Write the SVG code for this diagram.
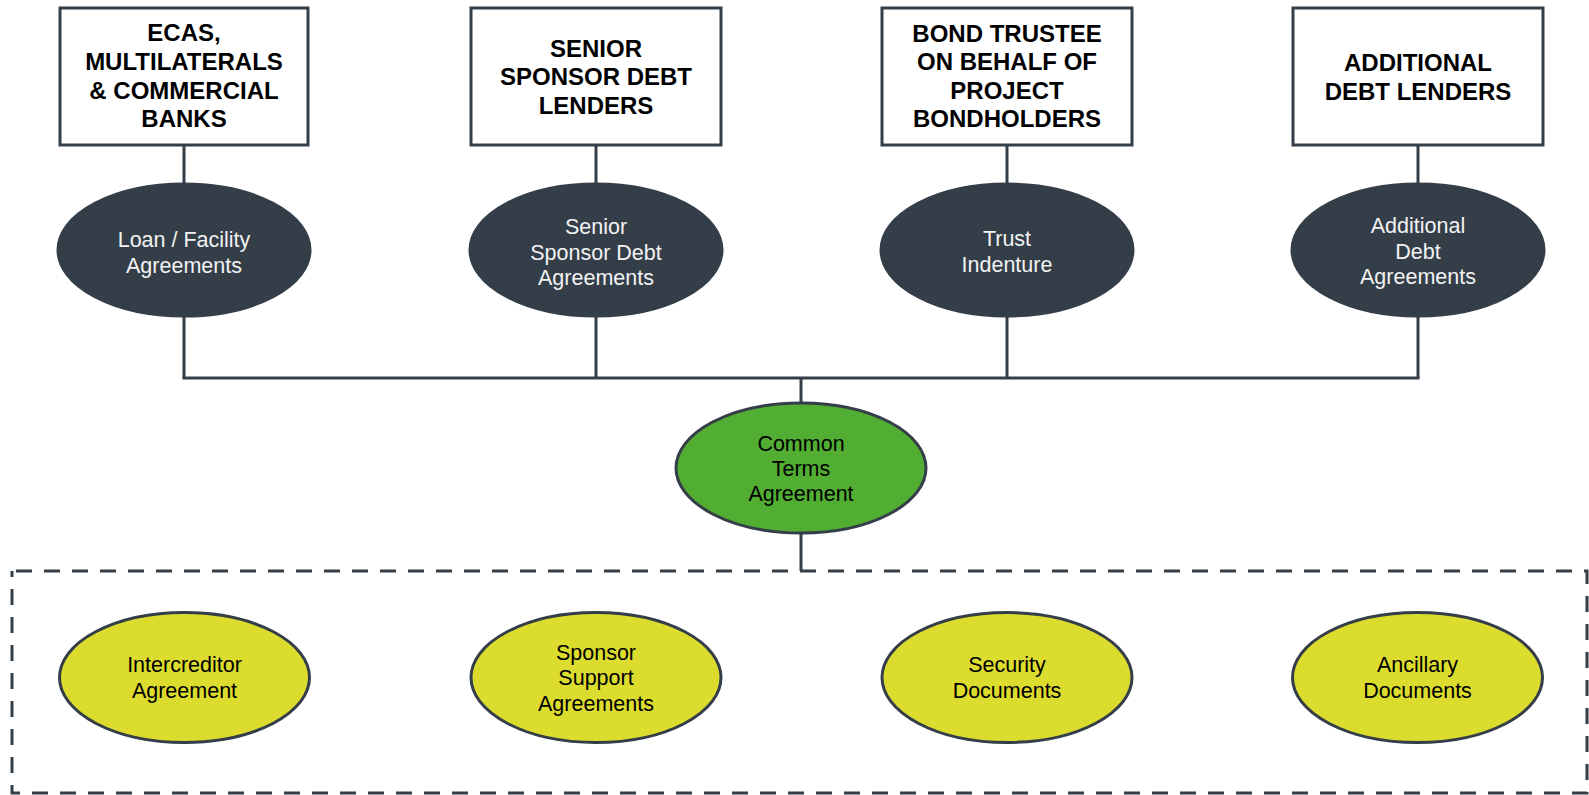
<svg xmlns="http://www.w3.org/2000/svg" width="1589" height="795" viewBox="0 0 1589 795">
<style>
.box{fill:#ffffff;stroke:#343e49;stroke-width:3}
.dark{fill:#343e49;stroke:#343e49;stroke-width:3}
.green{fill:#52ad33;stroke:#343e49;stroke-width:3}
.yellow{fill:#dcdc2e;stroke:#343e49;stroke-width:3}
.conn{fill:none;stroke:#343e49;stroke-width:3}
.dash{fill:none;stroke:#343e49;stroke-width:3;stroke-dasharray:16 12}
.t{font-family:"Liberation Sans",Arial,sans-serif;text-anchor:middle}
.bold{font-weight:bold;font-size:24px;fill:#000000}
.w{font-size:21.5px;fill:#f2f2f2}
.k{font-size:21.5px;fill:#000000}
</style>
<g id="connectors">
<line class="conn" x1="184" y1="145" x2="184" y2="183"/>
<line class="conn" x1="596" y1="145" x2="596" y2="183"/>
<line class="conn" x1="1007" y1="145" x2="1007" y2="183"/>
<line class="conn" x1="1418" y1="145" x2="1418" y2="183"/>
<line class="conn" x1="184" y1="317" x2="184" y2="378"/>
<line class="conn" x1="596" y1="317" x2="596" y2="378"/>
<line class="conn" x1="1007" y1="317" x2="1007" y2="378"/>
<line class="conn" x1="1418" y1="317" x2="1418" y2="378"/>
<line class="conn" x1="182.5" y1="378" x2="1419.5" y2="378"/>
<line class="conn" x1="801" y1="378" x2="801" y2="403"/>
<line class="conn" x1="801" y1="533" x2="801" y2="571"/>
</g>
<g id="scope">
<rect class="dash" x="12" y="571" width="1575" height="222" stroke-dashoffset="-4"/>
</g>
<g id="box1">
<rect class="box" x="60" y="8" width="248" height="137"/>
<text class="t bold"><tspan x="184" y="41">ECAS,</tspan><tspan x="184" y="69.5">MULTILATERALS</tspan><tspan x="184" y="98.5">&amp; COMMERCIAL</tspan><tspan x="184" y="127">BANKS</tspan></text>
</g>
<g id="box2">
<rect class="box" x="471" y="8" width="250" height="137"/>
<text class="t bold"><tspan x="596" y="56.5">SENIOR</tspan><tspan x="596" y="85">SPONSOR DEBT</tspan><tspan x="596" y="113.5">LENDERS</tspan></text>
</g>
<g id="box3">
<rect class="box" x="882" y="8" width="250" height="137"/>
<text class="t bold"><tspan x="1007" y="41.5">BOND TRUSTEE</tspan><tspan x="1007" y="70">ON BEHALF OF</tspan><tspan x="1007" y="98.5">PROJECT</tspan><tspan x="1007" y="127">BONDHOLDERS</tspan></text>
</g>
<g id="box4">
<rect class="box" x="1293" y="8" width="250" height="137"/>
<text class="t bold"><tspan x="1418" y="71">ADDITIONAL</tspan><tspan x="1418" y="99.5">DEBT LENDERS</tspan></text>
</g>
<g id="loan">
<ellipse class="dark" cx="184" cy="250" rx="126" ry="66"/>
<text class="t w"><tspan x="184" y="246.5">Loan / Facility</tspan><tspan x="184" y="272.5">Agreements</tspan></text>
</g>
<g id="senior">
<ellipse class="dark" cx="596" cy="250" rx="126" ry="66"/>
<text class="t w"><tspan x="596" y="233.5">Senior</tspan><tspan x="596" y="259.5">Sponsor Debt</tspan><tspan x="596" y="285">Agreements</tspan></text>
</g>
<g id="trust">
<ellipse class="dark" cx="1007" cy="250" rx="126" ry="66"/>
<text class="t w"><tspan x="1007" y="246">Trust</tspan><tspan x="1007" y="272">Indenture</tspan></text>
</g>
<g id="additional">
<ellipse class="dark" cx="1418" cy="250" rx="126" ry="66"/>
<text class="t w"><tspan x="1418" y="232.5">Additional</tspan><tspan x="1418" y="258.5">Debt</tspan><tspan x="1418" y="284">Agreements</tspan></text>
</g>
<g id="cta">
<ellipse class="green" cx="801" cy="468" rx="125" ry="65"/>
<text class="t k"><tspan x="801" y="450.5">Common</tspan><tspan x="801" y="475.5">Terms</tspan><tspan x="801" y="500.5">Agreement</tspan></text>
</g>
<g id="intercreditor">
<ellipse class="yellow" cx="184.5" cy="677.5" rx="125" ry="65"/>
<text class="t k"><tspan x="184.5" y="671.5">Intercreditor</tspan><tspan x="184.5" y="697.5">Agreement</tspan></text>
</g>
<g id="sponsor">
<ellipse class="yellow" cx="596" cy="677.5" rx="125" ry="65"/>
<text class="t k"><tspan x="596" y="660">Sponsor</tspan><tspan x="596" y="685">Support</tspan><tspan x="596" y="710.5">Agreements</tspan></text>
</g>
<g id="security">
<ellipse class="yellow" cx="1007" cy="677.5" rx="125" ry="65"/>
<text class="t k"><tspan x="1007" y="671.5">Security</tspan><tspan x="1007" y="697.5">Documents</tspan></text>
</g>
<g id="ancillary">
<ellipse class="yellow" cx="1417.5" cy="677.5" rx="125" ry="65"/>
<text class="t k"><tspan x="1417.5" y="671.5">Ancillary</tspan><tspan x="1417.5" y="697.5">Documents</tspan></text>
</g>
</svg>
